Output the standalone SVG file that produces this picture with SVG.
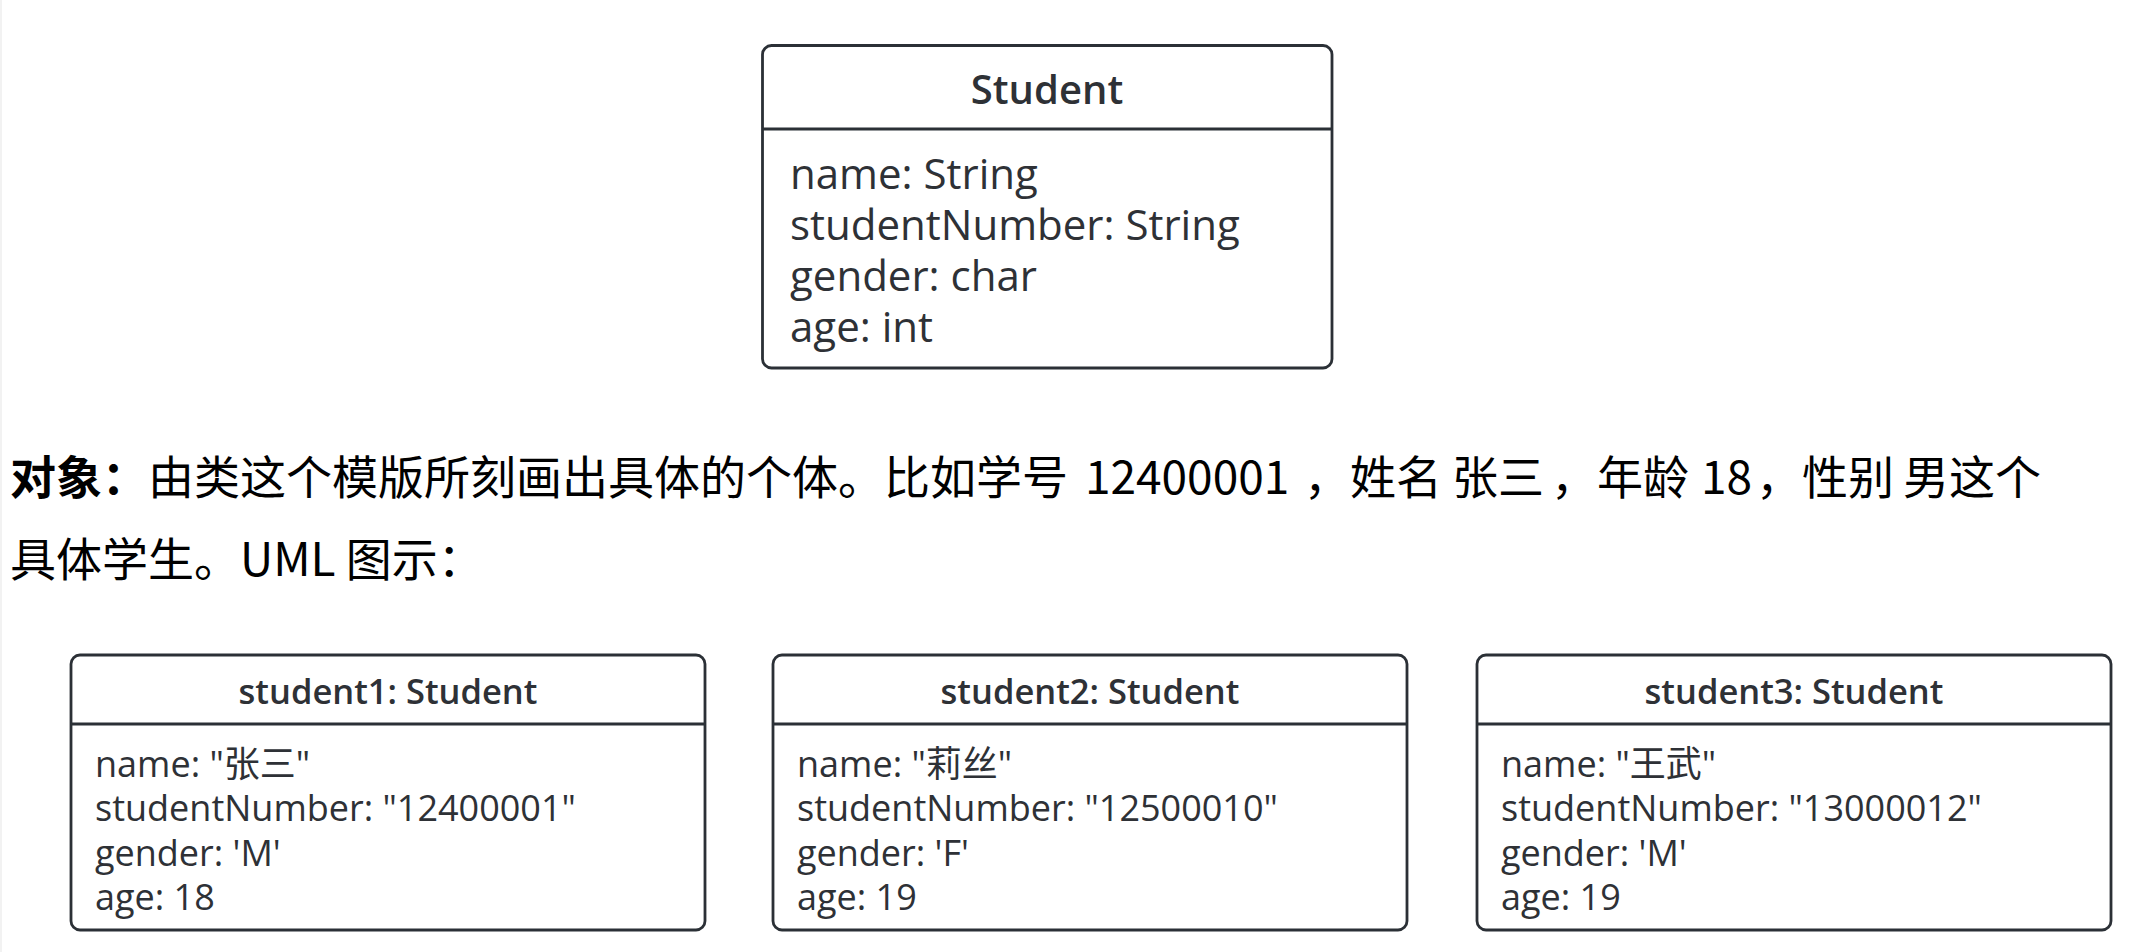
<svg xmlns="http://www.w3.org/2000/svg" width="2154" height="952" viewBox="0 0 2154 952">
<style>
.box{fill:#ffffff;stroke:#2b3036;stroke-width:2.8}
.sep{stroke:#2b3036;stroke-width:2.8}
.ttl{font-family:"Open Sans","Noto Sans CJK SC",sans-serif;font-weight:600;fill:#2e3136;text-anchor:middle}
.att{font-family:"Open Sans","Noto Sans CJK SC",sans-serif;fill:#2e3136}
.a1{font-size:42px}
.a2{font-size:36px}
.para{font-family:"Noto Sans CJK SC",sans-serif;font-size:46px;fill:#000000}
</style>
<rect x="0" y="0" width="2154" height="952" fill="#ffffff"/>
<rect x="0" y="0" width="2" height="952" fill="#f2f2f2"/>
<g id="class-student">
<rect class="box" x="762.5" y="45.5" width="569.5" height="322.5" rx="9"/>
<line class="sep" x1="762.5" y1="129" x2="1332" y2="129"/>
<text class="ttl" x="1047" y="104" font-size="40">Student</text>
<text class="att a1" x="790" y="189">name: String</text>
<text class="att a1" x="790" y="240">studentNumber: String</text>
<text class="att a1" x="790" y="291">gender: char</text>
<text class="att a1" x="790" y="342">age: int</text>
</g>
<g id="paragraph">
<text class="para" x="10" y="494" font-weight="700">对象：</text>
<text class="para" x="148" y="494">由类这个模版所刻画出具体的个体。比如学号</text>
<text class="para" x="1085" y="494">12400001</text>
<text class="para" x="1304" y="494">，姓名</text>
<text class="para" x="1452" y="494">张三</text>
<text class="para" x="1551" y="494">，年龄</text>
<text class="para" x="1701" y="494">18</text>
<text class="para" x="1756" y="494">，性别</text>
<text class="para" x="1903" y="494">男这个</text>
<text class="para" x="10" y="576">具体学生。UML 图示：</text>
</g>
<g id="object-student1">
<rect class="box" x="71" y="655" width="634" height="275" rx="9"/>
<line class="sep" x1="71" y1="724" x2="705" y2="724"/>
<text class="ttl" x="388" y="704" font-size="34.5">student1: Student</text>
<text class="att a2" x="95" y="777">name: "张三"</text>
<text class="att a2" x="95" y="821">studentNumber: "12400001"</text>
<text class="att a2" x="95" y="866">gender: 'M'</text>
<text class="att a2" x="95" y="910">age: 18</text>
</g>
<g id="object-student2">
<rect class="box" x="773" y="655" width="634" height="275" rx="9"/>
<line class="sep" x1="773" y1="724" x2="1407" y2="724"/>
<text class="ttl" x="1090" y="704" font-size="34.5">student2: Student</text>
<text class="att a2" x="797" y="777">name: "莉丝"</text>
<text class="att a2" x="797" y="821">studentNumber: "12500010"</text>
<text class="att a2" x="797" y="866">gender: 'F'</text>
<text class="att a2" x="797" y="910">age: 19</text>
</g>
<g id="object-student3">
<rect class="box" x="1477" y="655" width="634" height="275" rx="9"/>
<line class="sep" x1="1477" y1="724" x2="2111" y2="724"/>
<text class="ttl" x="1794" y="704" font-size="34.5">student3: Student</text>
<text class="att a2" x="1501" y="777">name: "王武"</text>
<text class="att a2" x="1501" y="821">studentNumber: "13000012"</text>
<text class="att a2" x="1501" y="866">gender: 'M'</text>
<text class="att a2" x="1501" y="910">age: 19</text>
</g>
<g id="connectors"></g>
</svg>
